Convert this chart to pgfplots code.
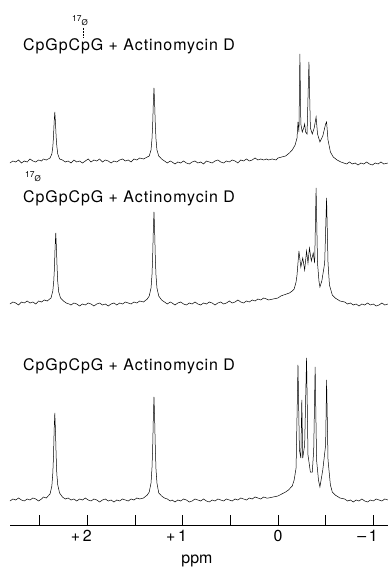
\documentclass[border=0pt]{standalone}
\usepackage{fontspec}
\setmainfont{TeX Gyre Heros}
\usepackage{pgfplots}
\pgfplotsset{compat=1.18}
\usepackage{pgfplotstable}
\pgfplotstableread{
x y
2.81 362
2.78 364
2.75 363
2.72 365
2.69 362
2.66 364
2.63 363
2.60 366
2.57 364
2.54 363
2.51 365
2.48 364
2.46 366
2.43 365
2.39 367
2.371 371
2.361 378
2.354 388
2.347 403
2.34 413
2.333 402
2.326 388
2.319 379
2.309 371
2.29 366
2.26 365
2.23 363
2.20 364
2.17 362
2.14 365
2.11 363
2.08 364
2.05 362
2.02 364
1.99 366
1.96 363
1.93 365
1.90 364
1.87 366
1.84 363
1.81 365
1.78 364
1.75 362
1.72 364
1.69 363
1.66 365
1.63 366
1.60 364
1.57 365
1.54 363
1.51 366
1.48 365
1.45 367
1.41 366
1.37 368
1.35 369
1.331 375
1.321 386
1.314 400
1.307 422
1.30 437
1.293 421
1.286 400
1.279 386
1.269 375
1.25 369
1.22 366
1.19 364
1.16 362
1.13 364
1.11 363
1.08 361
1.05 363
1.02 362
0.99 364
0.96 362
0.93 361
0.90 363
0.87 364
0.84 362
0.81 363
0.78 361
0.75 364
0.72 363
0.69 362
0.66 364
0.63 365
0.60 363
0.57 362
0.54 364
0.51 363
0.48 365
0.45 364
0.42 362
0.39 365
0.36 364
0.33 366
0.30 364
0.27 365
0.24 367
0.21 365
0.18 366
0.15 365
0.12 366
0.10 365
0.06 366
0.02 365
0.00 367
-0.04 368
-0.08 369
-0.12 372
-0.15 375
-0.18 380
-0.20 387
-0.21 403
-0.22 393
-0.23 471
-0.24 401
-0.255 393
-0.27 397
-0.28 401
-0.29 393
-0.305 391
-0.325 463
-0.34 397
-0.36 391
-0.38 397
-0.40 408
-0.415 391
-0.44 383
-0.47 389
-0.50 401
-0.51 403
-0.525 385
-0.55 373
-0.58 368
-0.62 365
-0.66 363
-0.69 362
-0.72 361
-0.75 363
-0.78 361
-0.81 362
-0.84 360
-0.87 362
-0.90 361
-0.93 363
-0.96 361
-0.99 360
-1.02 362
-1.05 361
-1.08 363
-1.11 361
-1.154 362
}\topspec
\pgfplotstableread{
x y
2.81 221
2.78 223
2.75 222
2.72 220
2.69 223
2.66 222
2.63 224
2.60 222
2.57 223
2.54 221
2.51 224
2.48 223
2.45 225
2.42 224
2.38 227
2.361 234
2.351 244
2.344 257
2.337 278
2.33 292
2.323 277
2.316 257
2.309 243
2.299 233
2.28 227
2.25 224
2.22 222
2.19 221
2.17 220
2.14 222
2.11 221
2.08 219
2.05 221
2.02 220
1.99 222
1.96 221
1.93 219
1.90 221
1.87 222
1.84 220
1.81 221
1.78 219
1.75 221
1.72 222
1.69 220
1.66 222
1.63 221
1.60 223
1.57 222
1.54 221
1.51 223
1.48 222
1.45 224
1.41 223
1.37 226
1.35 229
1.331 237
1.321 250
1.314 268
1.307 295
1.30 313
1.293 294
1.286 267
1.279 250
1.269 237
1.25 229
1.22 225
1.19 223
1.16 221
1.13 223
1.11 222
1.08 220
1.05 222
1.02 223
0.99 221
0.96 220
0.93 222
0.90 221
0.87 223
0.84 221
0.81 220
0.78 222
0.75 221
0.72 223
0.69 222
0.66 220
0.63 222
0.60 223
0.57 221
0.54 222
0.51 224
0.48 222
0.45 223
0.42 225
0.39 223
0.36 222
0.33 224
0.30 223
0.27 225
0.24 224
0.21 226
0.18 225
0.15 227
0.12 226
0.10 225
0.05 226
0.00 227
-0.03 229
-0.06 230
-0.09 231
-0.12 232
-0.15 234
-0.17 236
-0.19 243
-0.20 250
-0.22 274
-0.24 258
-0.26 267
-0.28 255
-0.30 274
-0.315 262
-0.33 277
-0.35 264
-0.37 272
-0.385 262
-0.40 337
-0.415 262
-0.43 244
-0.44 238
-0.46 244
-0.49 262
-0.51 327
-0.525 262
-0.54 240
-0.57 230
-0.60 227
-0.65 224
-0.70 223
-0.73 221
-0.76 222
-0.79 220
-0.82 221
-0.85 219
-0.88 221
-0.91 220
-0.94 222
-0.97 220
-1.00 221
-1.03 219
-1.06 220
-1.09 222
-1.12 220
-1.154 221
}\midspec
\pgfplotstableread{
x y
2.81 24
2.78 26
2.75 25
2.72 27
2.69 25
2.66 24
2.63 26
2.60 25
2.57 27
2.54 26
2.51 24
2.48 26
2.46 28
2.43 27
2.39 31
2.371 39
2.361 52
2.354 68
2.347 95
2.34 112
2.333 94
2.326 69
2.319 51
2.309 40
2.29 32
2.26 28
2.23 26
2.20 27
2.17 25
2.14 26
2.11 24
2.08 26
2.05 25
2.02 27
1.99 25
1.96 24
1.93 26
1.90 25
1.87 23
1.84 25
1.81 26
1.78 24
1.75 25
1.72 23
1.69 25
1.66 24
1.63 26
1.60 25
1.57 24
1.54 26
1.51 25
1.48 27
1.45 26
1.41 27
1.37 30
1.35 33
1.331 42
1.321 57
1.314 76
1.307 107
1.30 128
1.293 106
1.286 77
1.279 56
1.269 42
1.25 32
1.22 29
1.19 27
1.16 26
1.13 24
1.11 25
1.08 23
1.05 25
1.02 24
0.99 26
0.96 25
0.93 23
0.90 24
0.87 26
0.84 25
0.81 24
0.78 26
0.75 24
0.72 23
0.69 25
0.66 24
0.63 26
0.60 25
0.57 24
0.54 26
0.51 25
0.48 24
0.45 26
0.42 25
0.39 27
0.36 26
0.33 25
0.30 27
0.27 26
0.24 28
0.21 27
0.18 26
0.15 28
0.12 27
0.10 27
0.05 28
0.00 29
-0.04 31
-0.08 33
-0.11 35
-0.15 39
-0.17 45
-0.19 57
-0.21 160
-0.225 75
-0.24 67
-0.25 125
-0.26 67
-0.28 80
-0.30 167
-0.315 70
-0.34 53
-0.36 53
-0.375 75
-0.39 158
-0.405 65
-0.425 45
-0.44 38
-0.47 55
-0.50 80
-0.51 145
-0.525 65
-0.55 40
-0.57 33
-0.60 30
-0.65 27
-0.70 26
-0.73 24
-0.76 25
-0.79 23
-0.82 25
-0.85 24
-0.88 26
-0.91 24
-0.94 23
-0.97 25
-1.00 24
-1.03 26
-1.06 25
-1.09 24
-1.12 26
-1.154 25
}\botspec
\newcommand{\lblfont}{\fontsize{16}{19}\selectfont\addfontfeature{LetterSpace=6}}
\newcommand{\isotope}{{\fontsize{8.5}{8.5}\selectfont 17\raisebox{-3.5bp}{\fontsize{8}{8}\selectfont Ø}}}
\begin{document}
\begin{tikzpicture}
\begin{axis}[
  at={(0,0)}, anchor=south west,
  width=378bp, height=525bp, scale only axis,
  xmin=-1.154, xmax=2.81, ymin=0, ymax=525,
  x dir=reverse,
  axis x line=bottom, axis y line=none,
  x axis line style={-, line width=0.8bp},
  xtick={-1,0,1,2},
  xticklabels={\llap{\textendash\,}1, 0, \llap{+\,}1, \llap{+\,}2},
  minor xtick={-0.5,0.5,1.5,2.5},
  xtick align=inside,
  major tick length=10bp, minor tick length=10bp,
  tick style={black, line width=0.6bp},
  ytick=\empty,
  clip=false,
  ticklabel style={font=\fontsize{16}{16}\selectfont},
  xticklabel style={yshift=-2bp},
]
\addplot[black, line width=0.5bp] table {\topspec};
\addplot[black, line width=0.5bp] table {\midspec};
\addplot[black, line width=0.5bp] table {\botspec};
\node[anchor=base west, inner sep=0pt] at (axis cs:2.674,474) {\lblfont CpGpCpG + Actinomycin D};
\node[anchor=base west, inner sep=0pt] at (axis cs:2.674,322) {\lblfont CpGpCpG + Actinomycin D};
\node[anchor=base west, inner sep=0pt] at (axis cs:2.674,154) {\lblfont CpGpCpG + Actinomycin D};
\node[anchor=base west, inner sep=0pt] at (axis cs:2.160,503) {\isotope};
\node[anchor=base west, inner sep=0pt] at (axis cs:2.653,347) {\isotope};
\draw[densely dotted, line width=0.5bp] (axis cs:2.045,497) -- (axis cs:2.045,488);
\node[anchor=base, inner sep=0pt, font=\fontsize{16}{16}\selectfont] at (axis cs:0.85,-38.5) {ppm};
\end{axis}
\pgfresetboundingbox
\path (-10bp,-43bp) rectangle (378bp,525bp);
\end{tikzpicture}
\end{document}
